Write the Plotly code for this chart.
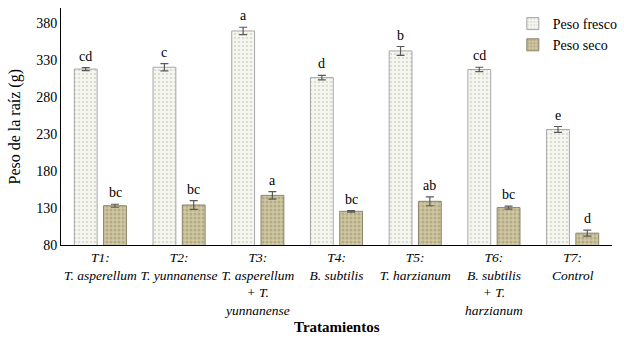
import plotly.graph_objects as go

categories = [
    "<i>T1:<br>T. asperellum</i>",
    "<i>T2:<br>T. yunnanense</i>",
    "<i>T3:<br>T. asperellum<br>+ T.<br>yunnanense</i>",
    "<i>T4:<br>B. subtilis</i>",
    "<i>T5:<br>T. harzianum</i>",
    "<i>T6:<br>B. subtilis<br>+ T.<br>harzianum</i>",
    "<i>T7:<br>Control</i>",
]
fresco = [317.5, 320, 369, 306, 342, 317, 236]
fresco_err = [2, 5, 5, 3, 6, 3, 4]
fresco_letters = ["cd", "c", "a", "d", "b", "cd", "e"]
seco = [133, 134, 147, 125.5, 139, 130.5, 96]
seco_err = [2, 6, 5, 1, 6, 2, 4]
seco_letters = ["bc", "bc", "a", "bc", "ab", "bc", "d"]
yticks = [80, 130, 180, 230, 280, 330, 380]

FONT = "Liberation Serif, Times New Roman, serif"
BARGAP = 0.256
GROUPGAP = 0.22

fig = go.Figure()
fig.add_trace(go.Bar(
    name="Peso fresco", x=categories, y=fresco,
    marker=dict(color="#f4f4ee", line=dict(color="#a6a6a6", width=1),
                pattern=dict(shape=".", fgcolor="#c4c4b6", bgcolor="#f7f7f2", size=4, solidity=0.35)),
    error_y=dict(type="data", array=fresco_err, color="#595959", thickness=1.2, width=4),
))
fig.add_trace(go.Bar(
    name="Peso seco", x=categories, y=seco,
    marker=dict(color="#c7bf98", line=dict(color="#8c8466", width=1),
                pattern=dict(shape=".", fgcolor="#958d6a", bgcolor="#cfc8a2", size=4, solidity=0.45)),
    error_y=dict(type="data", array=seco_err, color="#595959", thickness=1.2, width=4),
))

slot = (1 - BARGAP) / 2
for i in range(len(categories)):
    for off, vals, errs, letters in ((-slot / 2, fresco, fresco_err, fresco_letters),
                                      (slot / 2, seco, seco_err, seco_letters)):
        fig.add_annotation(x=i + off, y=vals[i] + errs[i], xref="x", yref="y",
                           text=letters[i], showarrow=False, yanchor="bottom", yshift=2,
                           font=dict(family=FONT, size=14, color="#000000"))

# axis titles
fig.add_annotation(x=0.5, y=0, xref="paper", yref="paper", yshift=-72, yanchor="top",
                   text="<b>Tratamientos</b>", showarrow=False,
                   font=dict(family=FONT, size=15, color="#000000"))
fig.add_annotation(x=0, y=0.5, xref="paper", yref="paper", xshift=-36, xanchor="right",
                   text="Peso de la raíz (g)", showarrow=False, textangle=-90,
                   font=dict(family=FONT, size=16, color="#000000"))

fig.update_layout(
    width=624, height=340,
    margin=dict(l=61, r=12, t=8, b=95, autoexpand=False),
    paper_bgcolor="white", plot_bgcolor="white",
    barmode="group", bargap=BARGAP, bargroupgap=GROUPGAP,
    font=dict(family=FONT, size=14, color="black"),
    showlegend=True,
    legend=dict(x=0.82, y=1.0, xanchor="left", yanchor="top", bgcolor="rgba(0,0,0,0)",
                font=dict(family=FONT, size=14), itemwidth=30, tracegroupgap=4),
)
fig.update_xaxes(
    showline=True, linecolor="black", linewidth=1, ticks="", showgrid=False,
    tickfont=dict(family=FONT, size=13.5), automargin=False, tickangle=0,
)
fig.update_yaxes(
    range=[80, 400], tickvals=yticks, showline=True, linecolor="black", linewidth=1,
    ticks="", showgrid=False, zeroline=False, automargin=False,
    tickfont=dict(family=FONT, size=14),
)

fig.write_html("out.html", config={"displayModeBar": False},
               post_script="document.body.style.margin='0';")
